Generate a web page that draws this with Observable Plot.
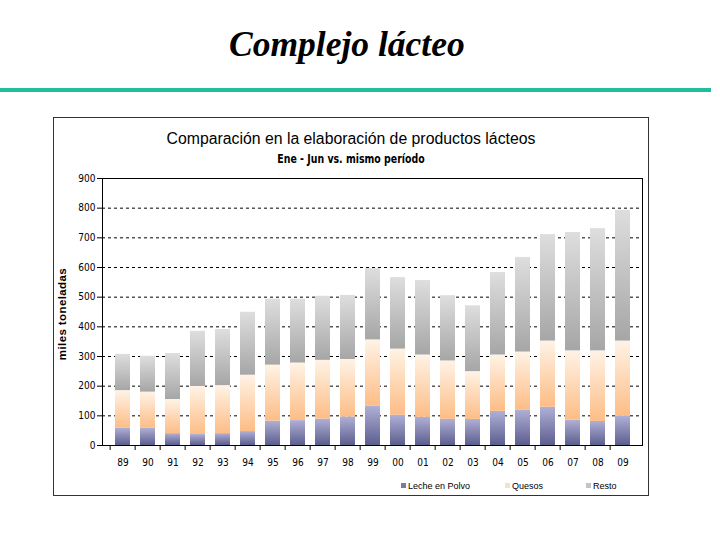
<!DOCTYPE html>
<html>
<head>
<meta charset="utf-8">
<script src="https://cdn.jsdelivr.net/npm/d3@7"></script>
<script src="https://cdn.jsdelivr.net/npm/@observablehq/plot@0.6"></script>
<style>
  html, body { margin: 0; padding: 0; background: #fff; }
  #page { position: relative; width: 720px; height: 540px; overflow: hidden; background: #fff; }
  #maintitle { position: absolute; left: 229px; top: 27px; font-family: "Liberation Serif", "Times New Roman", serif; font-style: italic; font-weight: bold; font-size: 35.5px; line-height: 35px; color: #000; white-space: nowrap; }
  #rule { position: absolute; left: 0; top: 88px; width: 711px; height: 4px; background: #1dbf9c; }
  #box { position: absolute; left: 53px; top: 117px; width: 594px; height: 377px; border: 1px solid #333; background: #fff; }
  #plot { position: absolute; left: 0; top: 0; }
  #ctitle { position: absolute; left: 0; width: 594px; top: 12px; text-align: center; font-family: "Liberation Sans", Arial, sans-serif; font-size: 15.8px; color: #000; white-space: nowrap; }
  #csub { position: absolute; left: 0; width: 594px; top: 34px; text-align: center; font-family: "DejaVu Sans Condensed", "Liberation Sans", Arial, sans-serif; font-weight: bold; font-size: 12px; color: #000; white-space: nowrap; transform: scaleX(0.87); transform-origin: center; }
  #ylab { position: absolute; left: 8px; top: 196px; transform: translate(-50%, -50%) rotate(-90deg); transform-origin: center; font-family: "Liberation Sans", Arial, sans-serif; font-weight: bold; font-size: 11.5px; letter-spacing: 0.4px; color: #000; white-space: nowrap; }
  .leg { position: absolute; top: 362px; font-family: "Liberation Sans", Arial, sans-serif; font-size: 9px; color: #000; white-space: nowrap; line-height: 12px; }
  .sw { display: inline-block; width: 5px; height: 5px; margin-right: 2px; vertical-align: 1px; }
</style>
</head>
<body>
<div id="page">
  <div id="maintitle">Complejo lácteo</div>
  <div id="rule"></div>
  <div id="box">
    <div id="plot"></div>
    <div id="ctitle">Comparación en la elaboración de productos lácteos</div>
    <div id="csub">Ene - Jun vs. mismo período</div>
    <div id="ylab">miles toneladas</div>
    <div id="legend"></div>
  </div>
</div>
<script>
const years  = ["89","90","91","92","93","94","95","96","97","98","99","00","01","02","03","04","05","06","07","08","09"];
const series = ["Leche en Polvo", "Quesos", "Resto"];
const leche  = [58, 58, 40, 37, 40, 47, 82, 84, 89, 96, 132, 102, 95, 88, 88, 115, 120, 129, 85, 81, 98];
const quesos = [127, 122, 115, 162, 162, 190, 189, 194, 198, 194, 224, 223, 210, 197, 161, 190, 195, 223, 234, 238, 254];
const resto  = [122, 121, 155, 186, 189, 212, 222, 215, 216, 216, 240, 241, 251, 220, 222, 278, 319, 359, 399, 412, 441];
const yTicks = [0, 100, 200, 300, 400, 500, 600, 700, 800, 900];
const gridTicks = [100, 200, 300, 400, 500, 600, 700, 800];

const values = [leche, quesos, resto];
const data = years.flatMap((y, i) => series.map((s, k) => ({year: y, serie: s, value: values[k][i]})));

const W = 594, H = 377, ML = 48, MR = 6, MT = 60, MB = 50;
const step = (W - ML - MR) / years.length;

const chart = Plot.plot({
  width: W, height: H,
  marginLeft: ML, marginRight: MR, marginTop: MT, marginBottom: MB,
  style: {fontFamily: "'Liberation Sans Narrow', 'DejaVu Sans Condensed', Arial, sans-serif", fontSize: "10px", color: "#000", background: "transparent", overflow: "visible"},
  x: {domain: years, padding: 0.42, label: null, axis: null},
  y: {domain: [0, 900], label: null, axis: null},
  color: {domain: series, range: ["url(#gLeche)", "url(#gQuesos)", "url(#gResto)"]},
  marks: [
    Plot.gridY(gridTicks, {stroke: "#000", strokeOpacity: 1, strokeDasharray: "3,3", strokeWidth: 1}),
    Plot.barY(data, {x: "year", y: "value", fill: "serie", order: series}),
    Plot.frame({stroke: "#000", strokeWidth: 1}),
    Plot.axisY(yTicks, {tickSize: 5, tickPadding: 2, label: null, stroke: "#000"}),
    Plot.axisX({tickSize: 0, tickPadding: 13, label: null}),
    Plot.axisX({tickSize: 5, tickFormat: () => "", dx: -step / 2, label: null, stroke: "#000"})
  ]
});

const defs = d3.select(chart).insert("defs", ":first-child");
const grads = [
  ["gLeche", "#b0b0d6", "#5c5e8e"],
  ["gQuesos", "#fff3e6", "#fdbd86"],
  ["gResto", "#dedede", "#a6a6a6"]
];
for (const [id, top, bottom] of grads) {
  const g = defs.append("linearGradient").attr("id", id).attr("x1", 0).attr("y1", 0).attr("x2", 0).attr("y2", 1);
  g.append("stop").attr("offset", "0%").attr("stop-color", top);
  g.append("stop").attr("offset", "100%").attr("stop-color", bottom);
}
document.getElementById("plot").appendChild(chart);

const legColors = ["#7a7aa2", "#f3e4c6", "#c4c4c4"];
const legX = [347, 451, 532];
const legend = document.getElementById("legend");
series.forEach((s, i) => {
  const d = document.createElement("div");
  d.className = "leg";
  d.style.left = legX[i] + "px";
  d.innerHTML = `<span class="sw" style="background:${legColors[i]}"></span>${s}`;
  legend.appendChild(d);
});
</script>
</body>
</html>
